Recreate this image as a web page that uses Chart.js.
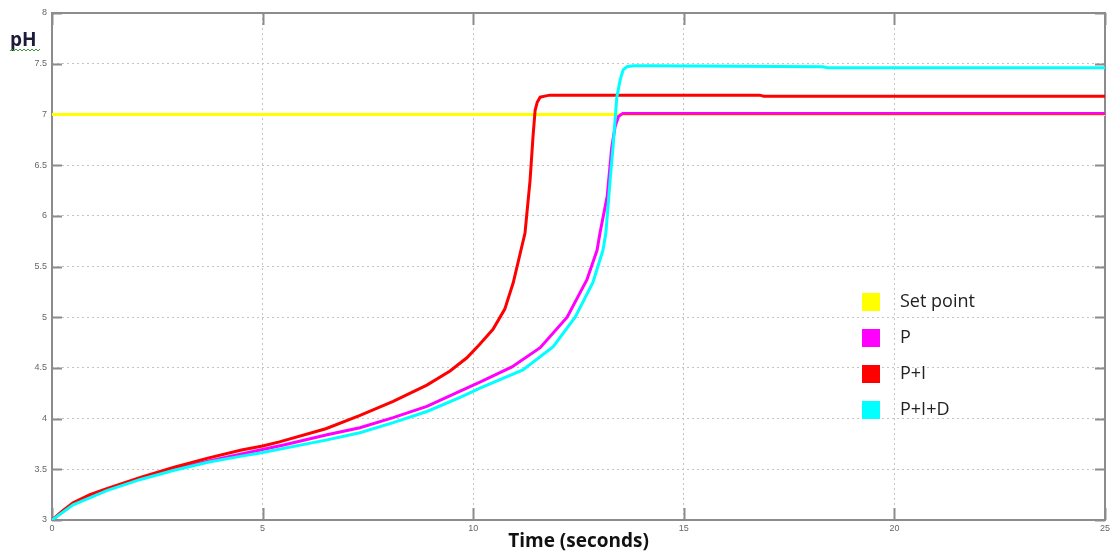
<!DOCTYPE html>
<html>
<head>
<meta charset="utf-8">
<script src="https://cdn.jsdelivr.net/npm/chart.js@4"></script>
<style>
  html, body { margin: 0; padding: 0; background: #fff; }
  #wrap { width: 1113px; height: 555px; position: relative; }
</style>
</head>
<body>
<div id="wrap"><canvas id="phChart" width="1113" height="555"></canvas></div>
<script>
// pH response of the controllers, read along time (s)
const xTicks = [0, 5, 10, 15, 20, 25];
const yTicks = [3, 3.5, 4, 4.5, 5, 5.5, 6, 6.5, 7, 7.5, 8];

const setTime = [0, 25];
const setPh = [7, 7];

const pTime = [0, 0.5, 1.3, 2.1, 2.9, 3.7, 4.5, 4.94, 5.5, 6.53, 7.31, 8.1, 8.9, 9.69, 10.16, 10.92, 11.59, 12.23, 12.7, 12.94, 13.01, 13.18, 13.29, 13.37, 13.45, 13.55, 13.7, 25];
const pPh = [3.0, 3.16, 3.30, 3.41, 3.50, 3.58, 3.65, 3.69, 3.74, 3.84, 3.91, 4.01, 4.12, 4.27, 4.36, 4.51, 4.70, 5.0, 5.37, 5.66, 5.83, 6.19, 6.68, 6.88, 6.98, 7.01, 7.01, 7.01];

const piTime = [0, 0.25, 0.5, 0.9, 1.3, 2.1, 2.9, 3.7, 4.5, 5.0, 5.4, 6.5, 7.3, 8.1, 8.9, 9.45, 9.85, 10.15, 10.47, 10.75, 10.95, 11.23, 11.35, 11.42, 11.47, 11.52, 11.59, 11.7, 11.82, 16.8, 16.9, 25];
const piPh = [3.0, 3.09, 3.17, 3.25, 3.31, 3.42, 3.52, 3.61, 3.69, 3.73, 3.77, 3.9, 4.03, 4.17, 4.33, 4.47, 4.6, 4.73, 4.88, 5.08, 5.34, 5.83, 6.35, 6.78, 7.04, 7.12, 7.17, 7.18, 7.19, 7.19, 7.18, 7.18];

const pidTime = [0, 0.5, 1.3, 2.1, 2.9, 3.7, 4.5, 4.94, 6.53, 7.31, 8.1, 8.9, 9.69, 10.16, 11.18, 11.9, 12.42, 12.84, 13.08, 13.15, 13.25, 13.32, 13.41, 13.49, 13.56, 13.65, 13.8, 14.2, 18.3, 18.4, 25];
const pidPh = [3.0, 3.15, 3.29, 3.40, 3.49, 3.57, 3.63, 3.66, 3.79, 3.86, 3.96, 4.07, 4.21, 4.30, 4.48, 4.71, 5.0, 5.34, 5.66, 5.83, 6.35, 6.68, 7.17, 7.34, 7.44, 7.47, 7.48, 7.48, 7.47, 7.46, 7.46];

function toPoints(xs, ys) {
    return xs.map((x, i) => ({ x: x, y: ys[i] }));
}

// frame, inward tick marks, axis titles and the legend
const decorations = {
    id: 'decorations',
    beforeDatasetsDraw(chart) {
        const ctx = chart.ctx;
        const a = chart.chartArea;
        const xs = chart.scales.x, ys = chart.scales.y;
        ctx.save();
        ctx.strokeStyle = '#8c8c8c';
        ctx.lineWidth = 2;
        ctx.strokeRect(a.left, a.top, a.right - a.left, a.bottom - a.top);
        ctx.lineWidth = 2;
        ctx.beginPath();
        yTicks.forEach(v => {
            const py = Math.round(ys.getPixelForValue(v)) + 0.5;
            ctx.moveTo(a.left, py); ctx.lineTo(a.left + 10, py);
            ctx.moveTo(a.right, py); ctx.lineTo(a.right - 10, py);
        });
        xTicks.forEach(v => {
            const px = Math.round(xs.getPixelForValue(v)) + 0.5;
            ctx.moveTo(px, a.bottom); ctx.lineTo(px, a.bottom - 12);
            ctx.moveTo(px, a.top); ctx.lineTo(px, a.top + 12);
        });
        ctx.stroke();
        ctx.restore();
    },
    afterDraw(chart) {
        const ctx = chart.ctx;
        const a = chart.chartArea;
        ctx.save();
        // y label with its squiggle
        ctx.fillStyle = '#1c1c3a';
        ctx.font = 'bold 19px "Open Sans"';
        ctx.textBaseline = 'alphabetic';
        ctx.textAlign = 'left';
        ctx.fillText('pH', 10, 46);
        ctx.strokeStyle = '#3c9a3c';
        ctx.lineWidth = 1;
        ctx.beginPath();
        for (let x = 10; x <= 40; x += 2) {
            const y = (x / 2) % 2 === 0 ? 49 : 51;
            if (x === 10) ctx.moveTo(x, y); else ctx.lineTo(x, y);
        }
        ctx.stroke();

        // x title
        ctx.fillStyle = '#111';
        ctx.font = 'bold 19px "Open Sans"';
        ctx.textAlign = 'center';
        ctx.fillText('Time (seconds)', (a.left + a.right) / 2, 547);

        // legend
        const rows = [0, 1, 2, 3];
        ctx.font = '18px "Open Sans"';
        ctx.textAlign = 'left';
        ctx.textBaseline = 'middle';
        rows.forEach(i => {
            const ds = chart.data.datasets[i];
            const cy = 302 + i * 36;
            ctx.fillStyle = ds.borderColor;
            ctx.fillRect(862, cy - 9, 18, 18);
            ctx.fillStyle = '#222';
            ctx.fillText(ds.label, 900, cy);
        });
        ctx.restore();
    }
};

const ctx = document.getElementById('phChart').getContext('2d');
new Chart(ctx, {
    type: 'line',
    data: {
        datasets: [
            { label: 'Set point', data: toPoints(setTime, setPh), borderColor: '#ffff00', order: 4 },
            { label: 'P', data: toPoints(pTime, pPh), borderColor: '#ff00ff', order: 3 },
            { label: 'P+I', data: toPoints(piTime, piPh), borderColor: '#ff0000', order: 2 },
            { label: 'P+I+D', data: toPoints(pidTime, pidPh), borderColor: '#00ffff', order: 1 }
        ]
    },
    options: {
        responsive: false,
        animation: false,
        layout: { padding: { left: 0, top: 13, right: 8, bottom: 0 } },
        elements: {
            line: { borderWidth: 3, tension: 0, fill: false },
            point: { radius: 0 }
        },
        plugins: {
            legend: { display: false },
            tooltip: { enabled: false }
        },
        scales: {
            x: {
                type: 'linear',
                min: 0,
                max: 25,
                afterBuildTicks: s => { s.ticks = xTicks.map(v => ({ value: v })); },
                afterFit: s => { s.height = 35; },
                grid: { color: '#c4c4c4', lineWidth: 1, drawTicks: false },
                border: { display: false, dash: [2, 3] },
                ticks: {
                    padding: 3,
                    color: '#666',
                    font: { family: 'Liberation Sans', size: 9 },
                    callback: v => String(v)
                }
            },
            y: {
                min: 3,
                max: 8,
                afterBuildTicks: s => { s.ticks = yTicks.map(v => ({ value: v })); },
                afterFit: s => { s.width = 52; },
                grid: { color: '#c4c4c4', lineWidth: 1, drawTicks: false },
                border: { display: false, dash: [2, 3] },
                ticks: {
                    padding: 5,
                    color: '#666',
                    font: { family: 'Liberation Sans', size: 9 },
                    callback: v => String(v)
                }
            }
        }
    },
    plugins: [decorations]
});
</script>
</body>
</html>
